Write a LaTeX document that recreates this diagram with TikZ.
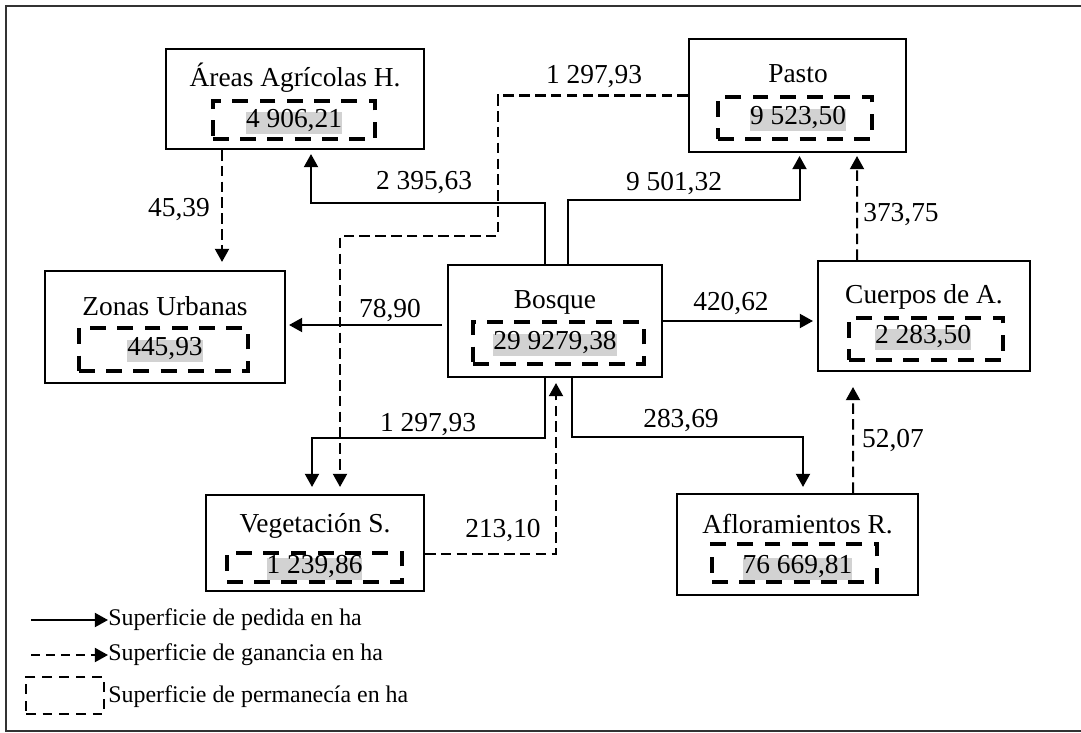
\documentclass[tikz,border=0pt]{standalone}
\usepackage{fontspec}
\setmainfont{Liberation Serif}
\usepackage{xcolor}
\usetikzlibrary{
    arrows.meta,
    positioning,
    calc
}
\tikzset{%
    >={Triangle[width=8pt,length=7.5pt]},
    % Specifications for style of nodes:
    base/.style = {font=\fontsize{15.6}{18}\selectfont, inner sep=0pt},
    cover/.style = {
        base,
        rectangle, draw=black, line width=1.2pt,
        fill=white
    },
    ttl/.style = {base, anchor=base},
    keep/.style = {
        base, rectangle, draw=black, line width=2.2pt,
        dash pattern=on 9pt off 6.5pt
    },
    val/.style = {base, fill=gray!35, text height=0.72em, text depth=0.22em, inner ysep=1.5pt},
    qty/.style = {base},
    legtext/.style = {font=\fontsize{13.6}{16}\selectfont, inner sep=0pt, anchor=west},
    lost/.style = {->, line width=1.15pt},
    gain/.style = {->, line width=1.15pt, dash pattern=on 6pt off 3pt},
    frame/.style = {line width=1pt, draw=black!80}
}
\begin{document}
\begin{tikzpicture}[x=0.02cm, y=-0.02cm]
\useasboundingbox (0,0) rectangle (1081,733);
\draw[frame] (1090,6) -- (6,6) -- (6,731) -- (1090,731);

% cajas
\node[cover, minimum width=5.16cm, minimum height=2.0cm] (agr) at (295,99) {};
\node[cover, minimum width=4.8cm, minimum height=2.24cm] (zon) at (165,327) {};
\node[cover, minimum width=4.28cm, minimum height=2.24cm] (bos) at (555,321) {};
\node[cover, minimum width=4.34cm, minimum height=2.26cm] (pas) at (797.5,95.5) {};
\node[cover, minimum width=4.24cm, minimum height=2.2cm] (cue) at (924,316) {};
\node[cover, minimum width=4.36cm, minimum height=1.92cm] (veg) at (315,543) {};
\node[cover, minimum width=4.82cm, minimum height=2.02cm] (afl) at (797.5,544.5) {};

\node[ttl] (agr-t) at (295,87) {Áreas Agrícolas H.};
\node[ttl] (zon-t) at (165,315) {Zonas Urbanas};
\node[ttl] (bos-t) at (555,308) {Bosque};
\node[ttl] (pas-t) at (798,83) {Pasto};
\node[ttl] (cue-t) at (924,303) {Cuerpos de A.};
\node[ttl] (veg-t) at (315,532) {Vegetación S.};
\node[ttl] (afl-t) at (797.5,533) {Afloramientos R.};

\node[val] (agr-v) at (294,123) {4 906,21};
\node[val] (zon-v) at (165,351) {445,93};
\node[val] (bos-v) at (555,345) {29 9279,38};
\node[val] (pas-v) at (798,120) {9 523,50};
\node[val] (cue-v) at (923,339.5) {2 283,50};
\node[val] (veg-v) at (314.5,569) {1 239,86};
\node[val] (afl-v) at (797.5,569) {76 669,81};

\node[keep, minimum width=3.24cm, minimum height=0.76cm] (agr-k) at (294,120) {};
\node[keep, minimum width=3.38cm, minimum height=0.86cm] (zon-k) at (163.5,349.5) {};
\node[keep, minimum width=3.42cm, minimum height=0.84cm] (bos-k) at (558.5,343) {};
\node[keep, minimum width=3.08cm, minimum height=0.84cm] (pas-k) at (795,118) {};
\node[keep, minimum width=3.08cm, minimum height=0.84cm] (cue-k) at (926,339) {};
\node[keep, minimum width=3.5cm, minimum height=0.58cm] (veg-k) at (314.5,567.5) {};
\node[keep, minimum width=3.3cm, minimum height=0.76cm] (afl-k) at (794.5,563) {};

% flujos
\draw[lost] ($(bos.north)+(-10,0)$) |- ($(agr.south)+(16,53)$) -- ($(agr.south)+(16,4)$);
\draw[lost] ($(bos.north)+(13,0)$) |- ($(pas.south)+(2,47)$) -- ($(pas.south)+(2,3)$);
\draw[gain] (pas.west) -| (498,236) -| ($(veg.north)+(25,-7)$);
\draw[lost] ($(bos.west)+(-5,4)$) -- ($(zon.east)+(3,-2)$);
\draw[lost] (bos.east) -- ($(cue.west)+(-4,5)$);
\draw[gain] ($(cue.north)+(-67,0)$) -- ($(pas.south)+(59.5,3)$);
\draw[gain] ($(agr.south)+(-73,0)$) -- ($(zon.north)+(57,-8)$);
\draw[lost] ($(bos.south)+(-10,0)$) |- ($(veg.north)+(-3,-56)$) -- ($(veg.north)+(-3,-7)$);
\draw[gain] ($(veg.east)+(0,11)$) -| ($(bos.south)+(1,5)$);
\draw[lost] ($(bos.south)+(17,0)$) |- ($(afl.north)+(5.5,-56)$) -- ($(afl.north)+(5.5,-6)$);
\draw[gain] ($(afl.north)+(55.5,0)$) -- ($(cue.south)+(-71,15)$);

\node[qty] (q-agr) at (424,183) {2 395,63};
\node[qty] (q-pas) at (674,183) {9 501,32};
\node[qty] (q-pv) at (594,77) {1 297,93};
\node[qty] (q-zon) at (390,310) {78,90};
\node[qty] (q-cue) at (731,303) {420,62};
\node[qty] (q-cp) at (901,215) {373,75};
\node[qty] (q-az) at (179,210) {45,39};
\node[qty] (q-veg) at (428,425) {1 297,93};
\node[qty] (q-vb) at (503,530) {213,10};
\node[qty] (q-afl) at (681,420) {283,69};
\node[qty] (q-ac) at (893,440) {52,07};

% leyenda
\node[legtext] (leg1) at (108,620) {Superficie de pedida en ha};
\node[legtext] (leg2) at (108,655) {Superficie de ganancia en ha};
\node[legtext] (leg3) at (108,697) {Superficie de permanecía en ha};
\coordinate (leg1-s) at (31,620);
\coordinate (leg2-s) at (31,655);
\draw[lost] (leg1-s) -- (leg1.west);
\draw[gain, dash pattern=on 5pt off 3.5pt] (leg2-s) -- (leg2.west);
\node[keep, line width=1.6pt, dash pattern=on 5.5pt off 4pt, minimum width=1.56cm, minimum height=0.74cm] (leg3-k) at (65,695.5) {};
\end{tikzpicture}
\end{document}
